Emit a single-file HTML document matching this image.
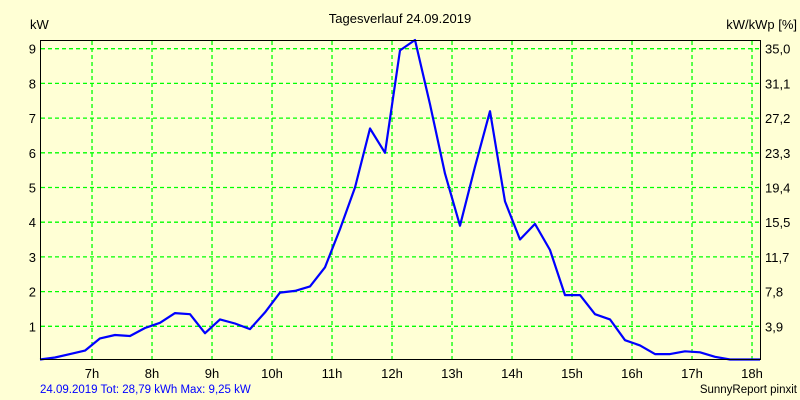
<!DOCTYPE html>
<html><head><meta charset="utf-8"><style>
body{margin:0;background:#ffffd5;}
svg{display:block;font-family:"Liberation Sans",sans-serif;}
</style></head><body>
<svg id="chart" width="800" height="400" viewBox="0 0 800 400">
<rect width="800" height="400" fill="#ffffd5"/>
<text x="400" y="23" text-anchor="middle" font-size="13">Tagesverlauf 24.09.2019</text>
<text x="30" y="29" font-size="13">kW</text>
<text x="797" y="29" text-anchor="end" font-size="13">kW/kWp [%]</text>
<g id="grid"></g>
<g id="ticks"></g>
<polyline id="line" fill="none" stroke="#0000ff" stroke-width="2.2" stroke-linejoin="round"/>
<path d="M40.5 40 V359.5 H760.5 V40 M40 40.5 H760" fill="none" stroke="#000" stroke-width="1"/>
<text x="40" y="393" font-size="11.5" fill="#0000ff">24.09.2019 Tot: 28,79 kWh Max: 9,25 kW</text>
<text x="797" y="393" text-anchor="end" font-size="11.5">SunnyReport pinxit</text>
</svg>
<script>
const times=[6.133,6.383,6.633,6.883,7.133,7.383,7.633,7.883,8.133,8.383,8.633,8.883,9.133,9.383,9.633,9.883,10.133,10.383,10.633,10.883,11.133,11.383,11.633,11.883,12.133,12.383,12.633,12.883,13.133,13.383,13.633,13.883,14.133,14.383,14.633,14.883,15.133,15.383,15.633,15.883,16.133,16.383,16.633,16.883,17.133,17.383,17.633,17.883,18.133];
const values=[0,0.1,0.2,0.3,0.65,0.75,0.72,0.95,1.1,1.38,1.35,0.8,1.2,1.08,0.92,1.4,1.97,2.02,2.15,2.7,3.8,5.0,6.7,6.0,8.95,9.25,7.4,5.4,3.9,5.6,7.2,4.6,3.5,3.95,3.2,1.9,1.9,1.35,1.2,0.6,0.45,0.2,0.2,0.28,0.25,0.12,0,0,0];
const hourTicks=["7h","8h","9h","10h","11h","12h","13h","14h","15h","16h","17h","18h"];
const hourVals=[7,8,9,10,11,12,13,14,15,16,17,18];
const leftTicks=[1,2,3,4,5,6,7,8,9];
const rightTicks=["3,9","7,8","11,7","15,5","19,4","23,3","27,2","31,1","35,0"];
const NS="http://www.w3.org/2000/svg";
const x=t=>40+(t-6.133)*60;
const y=v=>361-34.7*v;
const grid=document.getElementById('grid'),ticks=document.getElementById('ticks');
function mk(tag,attrs,parent){const e=document.createElementNS(NS,tag);for(const k in attrs)e.setAttribute(k,attrs[k]);parent.appendChild(e);return e;}
hourVals.forEach((h,i)=>{
  const l=mk('line',{x1:x(h),x2:x(h),y1:41,y2:359,stroke:'#00ff00','stroke-dasharray':'4,3','stroke-width':1.3},grid);
  
  
  const t=mk('text',{x:x(h),y:378,'text-anchor':'middle','font-size':13},ticks);
  t.textContent=hourTicks[i];
  
  
});
leftTicks.forEach((v,i)=>{
  const l=mk('line',{x1:41,x2:760,y1:y(v),y2:y(v),stroke:'#00ff00','stroke-dasharray':'4,3','stroke-width':1.3},grid);
  
  
  const t=mk('text',{x:36,y:y(v)+5,'text-anchor':'end','font-size':13},ticks);
  t.textContent=v;
  
  
  const r=mk('text',{x:765,y:y(v)+5,'font-size':13},ticks);
  r.textContent=rightTicks[i];
  
  
});
document.getElementById('line').setAttribute('points',times.map((t,i)=>x(t).toFixed(1)+','+Math.min(359.5,y(values[i])).toFixed(1)).join(' '));
</script>
</body></html>
